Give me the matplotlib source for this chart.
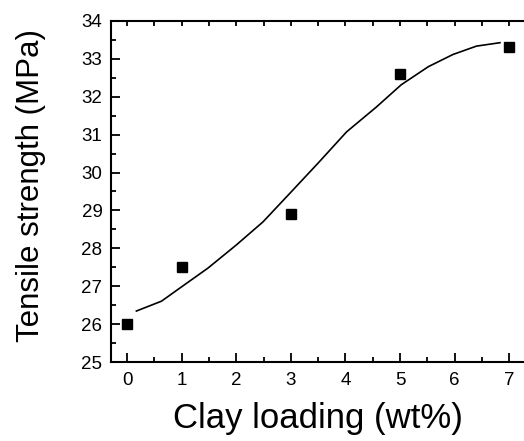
import matplotlib
matplotlib.use('Agg')
import matplotlib.pyplot as plt
from matplotlib.ticker import MultipleLocator

plt.rcParams['font.family'] = ['Liberation Sans', 'DejaVu Sans']

# measured points
clay = [0, 1, 3, 5, 7]
strength = [26.0, 27.5, 28.9, 32.6, 33.3]

# fitted curve
fit_x = [0.17, 0.63, 1.0, 1.48, 2.0, 2.49, 2.98, 3.5, 4.02, 4.57, 5.02, 5.52, 5.97, 6.40, 6.83]
fit_y = [26.35, 26.61, 26.99, 27.48, 28.09, 28.70, 29.45, 30.25, 31.07, 31.73, 32.31, 32.79, 33.11, 33.33, 33.42]

fig = plt.figure(figsize=(5.24, 4.41), dpi=100)
ax = fig.add_axes([0.2113, 0.1785, 0.797, 0.7746])

ax.plot(fit_x, fit_y, color='black', lw=1.2)
ax.plot(clay, strength, 's', color='black', ms=7.5)

ax.set_xlim(-0.3, 7.35)
ax.set_ylim(25, 34)
ax.xaxis.set_major_locator(MultipleLocator(1))
ax.xaxis.set_minor_locator(MultipleLocator(0.5))
ax.yaxis.set_major_locator(MultipleLocator(1))
ax.yaxis.set_minor_locator(MultipleLocator(0.5))

ax.tick_params(which='both', direction='in', width=1.3, top=True, right=False)
ax.tick_params(which='major', length=6.5, labelsize=13.5)
ax.tick_params(which='minor', length=3.6)
ax.tick_params(axis='x', which='major', pad=7)
ax.tick_params(axis='y', which='major', pad=6)
# top ticks are short
for t in ax.xaxis.get_ticklines(minor=False)[1::2]:
    t.set_markersize(3.6)
ax.spines['right'].set_visible(False)
for s in ['left', 'bottom', 'top']:
    ax.spines[s].set_linewidth(1.5)

ax.set_xlabel('Clay loading (wt%)', fontsize=25)
ax.set_ylabel('Tensile strength (MPa)', fontsize=22.5)
ax.xaxis.set_label_coords(0.495, -0.115)
ax.yaxis.set_label_coords(-0.155, 0.517)

fig.savefig('out.png', dpi=100)
